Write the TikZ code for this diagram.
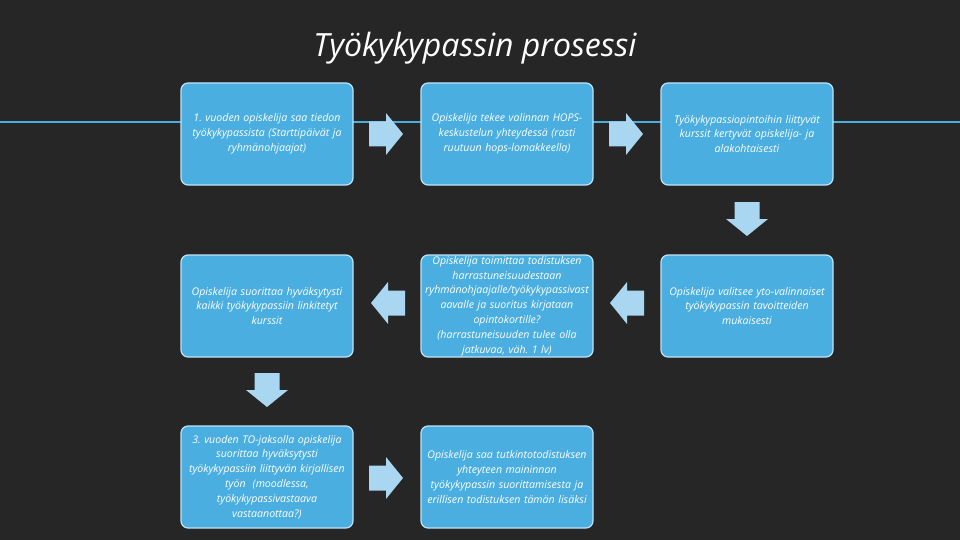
\documentclass[tikz,border=0pt]{standalone}
\usepackage{fontspec}
\setmainfont{Open Sans}
\frenchspacing
\definecolor{bg}{HTML}{262626}
\definecolor{boxc}{HTML}{4AAEE0}
\definecolor{boxline}{HTML}{BFE3F5}
\definecolor{arrowc}{HTML}{A9D6F0}
\tikzset{
  stepbox/.style={draw=boxline, line width=1.2pt, fill=boxc, rounded corners=7pt,
    minimum width=172pt, minimum height=102pt, text width=170pt, align=center,
    inner sep=0pt, text=white, font=\fontsize{10.6}{14.8}\selectfont\itshape},
  blockarrow/.style={fill=arrowc}
}
\newcommand\blockarr[3]{\fill[blockarrow, shift={(#1,#2)}, rotate=#3]
  (-17,-12.5) -- (0,-12.5) -- (0,-21) -- (17,0) -- (0,21) -- (0,12.5) -- (-17,12.5) -- cycle;}
\begin{document}
\begin{tikzpicture}[x=1pt,y=-1pt]
\fill[bg] (0,0) rectangle (960,540);
\useasboundingbox (0,0) rectangle (960,540);
\node[text=white, font=\fontsize{32}{34}\selectfont\itshape] (title) at (475,48) {Työkykypassin prosessi};
\draw[boxc, line width=1.5pt] (0,122) -- (960,122);
\node[stepbox] (b1) at (267,134) {1. vuoden opiskelija saa tiedon\\ työkykypassista (Starttipäivät ja\\ ryhmänohjaajat)};
\node[stepbox] (b2) at (507,134) {Opiskelija tekee valinnan HOPS-\\ keskustelun yhteydessä (rasti\\ ruutuun hops-lomakkeella)};
\node[stepbox] (b3) at (747,134) {Työkykypassiopintoihin liittyvät\\ kurssit kertyvät opiskelija- ja\\ alakohtaisesti};
\node[stepbox] (b6) at (747,306) {Opiskelija valitsee yto-valinnaiset\\ työkykypassin tavoitteiden\\ mukaisesti};
\node[stepbox] (b5) at (507,306) {Opiskelija toimittaa todistuksen\\ harrastuneisuudestaan\\ ryhmänohjaajalle/työkykypassivast\\ aavalle ja suoritus kirjataan\\ opintokortille?\\ (harrastuneisuuden tulee olla\\ jatkuvaa, väh. 1 lv)};
\node[stepbox] (b4) at (267,306) {Opiskelija suorittaa hyväksytysti\\ kaikki työkykypassiin linkitetyt\\ kurssit};
\node[stepbox] (b7) at (267,477) {3. vuoden TO-jaksolla opiskelija\\ suorittaa hyväksytysti\\ työkykypassiin liittyvän kirjallisen\\ työn \ (moodlessa,\\ työkykypassivastaava\\ vastaanottaa?)};
\node[stepbox] (b8) at (507,477) {Opiskelija saa tutkintotodistuksen\\ yhteyteen maininnan\\ työkykypassin suorittamisesta ja\\ erillisen todistuksen tämän lisäksi};
\blockarr{386}{134}{0}
\blockarr{626}{134}{0}
\blockarr{747}{219}{-90}
\blockarr{627}{303}{180}
\blockarr{388}{303}{180}
\blockarr{267}{390}{-90}
\blockarr{386}{478}{0}
\end{tikzpicture}
\end{document}
